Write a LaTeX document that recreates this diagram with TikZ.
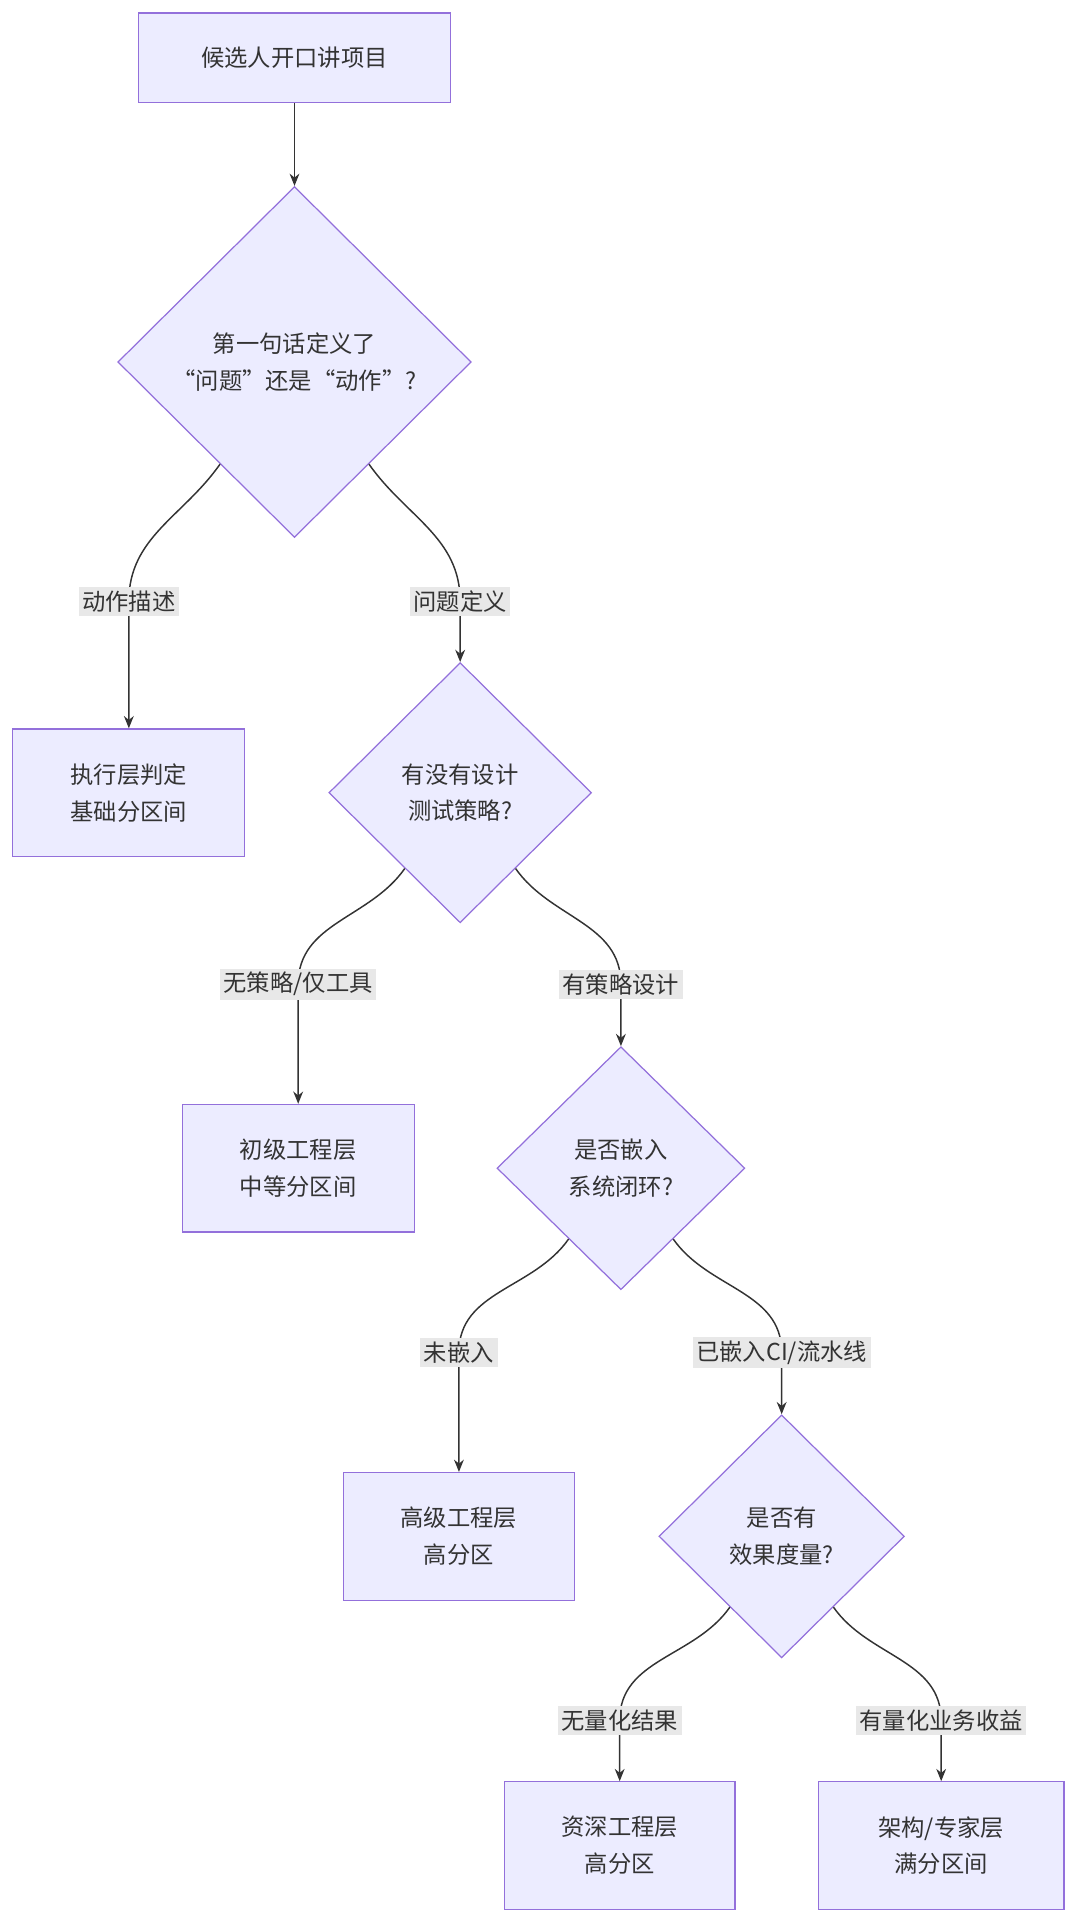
\documentclass[tikz,border=0pt]{standalone}
\usepackage{fontspec}
\setmainfont{Noto Sans CJK SC}
\usetikzlibrary{shapes.geometric,calc,arrows.meta}
\definecolor{nfill}{HTML}{ECECFF}
\definecolor{nline}{HTML}{9370DB}
\definecolor{ed}{HTML}{333333}
\definecolor{lbg}{HTML}{E8E8E8}
\begin{document}
\begin{tikzpicture}[x=1pt,y=-1pt,
  every node/.style={font=\fontsize{19}{30}\selectfont,text=ed,align=center},
  box/.style={draw=nline,fill=nfill,line width=1pt,inner sep=0},
  dia/.style={diamond,draw=nline,fill=nfill,line width=1pt,inner sep=0},
  lab/.style={fill=lbg,inner sep=3pt},
  arr/.style={draw=ed,line width=1.2pt,-{Stealth[length=10pt,width=8pt]}}]
\useasboundingbox (0,0) rectangle (880,1572);
\node[box,minimum width=254,minimum height=73] (s) at (240,47) {候选人开口讲项目};
\node[dia,minimum width=288,minimum height=286] (d1) at (240,295) {第一句话定义了\\“问题”还是“动作”?};
\node[box,minimum width=189,minimum height=104] (a) at (105,646) {执行层判定\\基础分区间};
\node[dia,minimum width=214,minimum height=212] (d2) at (375,646) {有没有设计\\测试策略?};
\node[box,minimum width=189,minimum height=104] (b) at (243,952) {初级工程层\\中等分区间};
\node[dia,minimum width=202,minimum height=198] (d3) at (506,952) {是否嵌入\\系统闭环?};
\node[box,minimum width=188,minimum height=104] (c) at (374,1252) {高级工程层\\高分区};
\node[dia,minimum width=200,minimum height=198] (d4) at (637,1252) {是否有\\效果度量?};
\node[box,minimum width=188,minimum height=104] (e) at (505,1504) {资深工程层\\高分区};
\node[box,minimum width=200,minimum height=104] (f) at (767,1504) {架构/专家层\\满分区间};
\draw[arr] (s) -- (d1);
\newcommand{\edgeL}[4]{%
  \coordinate (p#4) at ($(#1.west)!0.58!(#1.south)$);
  \coordinate (q#4) at (#2.north |- 0,#3);
  \draw[arr] (p#4) to[out=-125,in=90] (q#4) -- (#2.north);}
\newcommand{\edgeR}[4]{%
  \coordinate (p#4) at ($(#1.south)!0.42!(#1.east)$);
  \coordinate (q#4) at (#2.north |- 0,#3);
  \draw[arr] (p#4) to[out=-55,in=90] (q#4) -- (#2.north);}
\edgeL{d1}{a}{490}{1}
\edgeR{d1}{d2}{490}{2}
\edgeL{d2}{b}{802}{3}
\edgeR{d2}{d3}{802}{4}
\edgeL{d3}{c}{1102}{5}
\edgeR{d3}{d4}{1102}{6}
\edgeL{d4}{e}{1402}{7}
\edgeR{d4}{f}{1402}{8}
\node[lab] (l1) at (q1) {动作描述};
\node[lab] (l2) at (q2) {问题定义};
\node[lab] (l3) at (q3) {无策略/仅工具};
\node[lab] (l4) at (q4) {有策略设计};
\node[lab] (l5) at (q5) {未嵌入};
\node[lab] (l6) at (q6) {已嵌入CI/流水线};
\node[lab] (l7) at (q7) {无量化结果};
\node[lab] (l8) at (q8) {有量化业务收益};
\end{tikzpicture}
\end{document}
